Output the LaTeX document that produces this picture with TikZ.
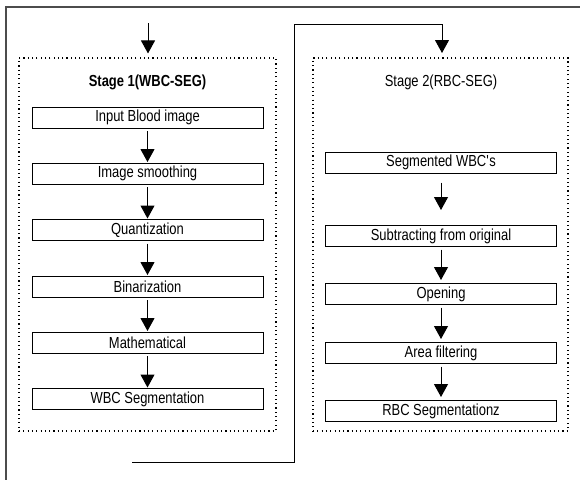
\documentclass[tikz,border=0pt]{standalone}
\usepackage{fontspec}
\setmainfont{Liberation Sans}[FakeStretch=0.81]
\usetikzlibrary{arrows.meta}
\begin{document}
\begin{tikzpicture}[x=1pt,y=-1pt,
  every node/.style={font=\fontsize{16}{19}\selectfont, inner sep=0pt},
  stepbox/.style={draw, line width=1pt, minimum width=231pt, minimum height=21pt},
  stagebox/.style={draw, line width=1.1pt, dash pattern=on 1.1pt off 3.2pt, minimum height=373pt},
  arr/.style={line width=1pt, -{Triangle[length=13pt,width=14pt]}},
  frame/.style={line width=1.4pt, draw=black!70}]
\useasboundingbox (0,0) rectangle (580,480);
% outer frame
\coordinate (fr0) at (580,7);
\coordinate (fr1) at (6,7);
\coordinate (fr2) at (6,480);
\draw[frame] (fr0) -- (fr1) -- (fr2);
% stage boxes
\node[stagebox, minimum width=257pt] (s1) at (147.5,244.5) {};
\node[stagebox, minimum width=255pt] (s2) at (440.5,244.5) {};
\node (t1) at (147.5,82) {\bfseries Stage 1(WBC-SEG)};
\node (t2) at (441,82) {Stage 2(RBC-SEG)};
% stage 1 steps
\node[stepbox] (a1) at (147.5,117.5) {Input Blood image};
\node[stepbox] (a2) at (147.5,173.5) {Image smoothing};
\node[stepbox] (a3) at (147.5,230) {Quantization};
\node[stepbox] (a4) at (147.5,286.5) {Binarization};
\node[stepbox] (a5) at (147.5,342.5) {Mathematical};
\node[stepbox] (a6) at (147.5,399) {WBC Segmentation};
% stage 2 steps
\node[stepbox] (b1) at (441,162.5) {Segmented WBC\textquotesingle s};
\node[stepbox] (b2) at (441,236) {Subtracting from original};
\node[stepbox] (b3) at (441,294) {Opening};
\node[stepbox] (b4) at (441,353) {Area filtering};
\node[stepbox] (b5) at (441,411) {RBC Segmentationz};
% arrows stage 1
\coordinate (in1) at (148,23);
\draw[arr, shorten >=4pt] (in1) -- (in1 |- s1.north);
\foreach \u/\v in {a1/a2,a2/a3,a3/a4,a4/a5,a5/a6}
  \draw[arr, shorten <=2.5pt, shorten >=0.5pt] (\u.south) -- (\v.north);
% arrows stage 2
\draw[arr, shorten <=9pt, shorten >=15pt] (b1.south) -- (b2.north);
\foreach \u/\v in {b2/b3,b3/b4,b4/b5}
  \draw[arr, shorten <=2.5pt, shorten >=3pt] (\u.south) -- (\v.north);
% feedback connector
\coordinate (fb0) at (132,462);
\coordinate (fbx) at (294,24);
\coordinate (fbt) at (442,58);
\draw[arr, shorten >=5pt] (fb0) -| (fbx) -| (fbt);
\end{tikzpicture}
\end{document}
